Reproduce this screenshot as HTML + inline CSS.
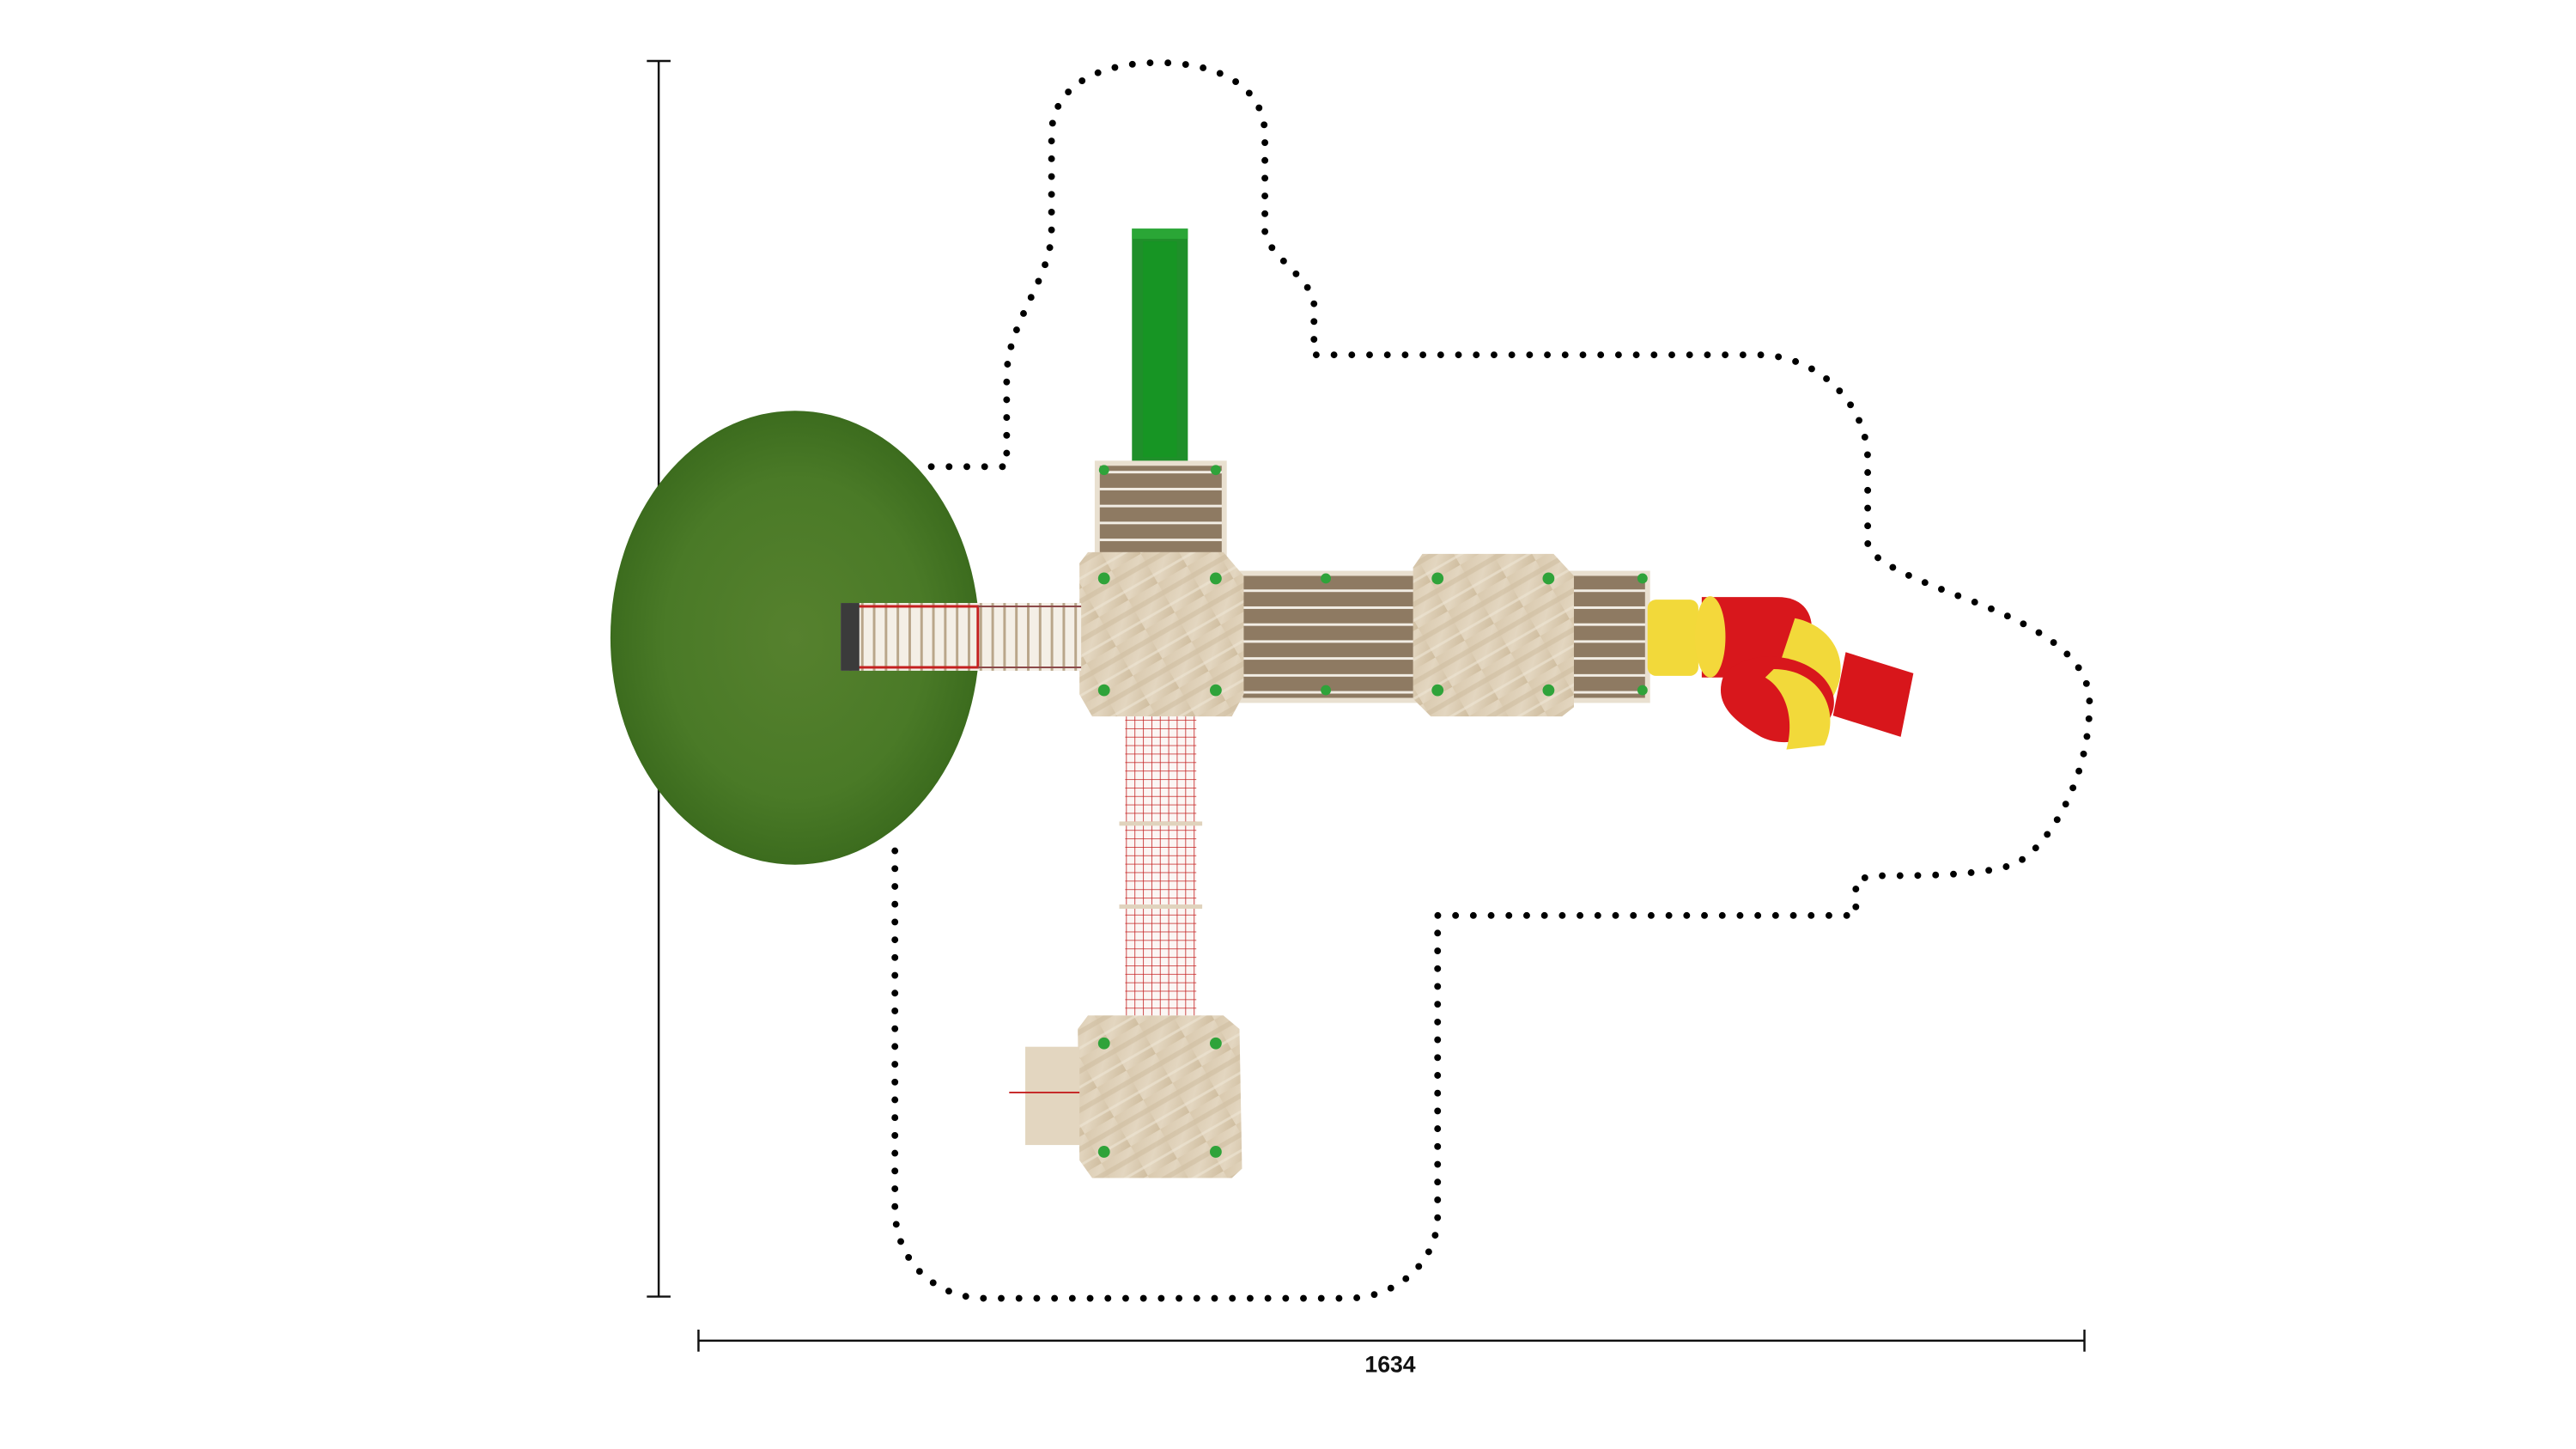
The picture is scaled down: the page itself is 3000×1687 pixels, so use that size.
<!DOCTYPE html>
<html><head><meta charset="utf-8"><style>html,body{margin:0;padding:0;background:#fff}svg{display:block}</style></head>
<body>
<svg width="3000" height="1687" viewBox="0 0 3000 1687" xmlns="http://www.w3.org/2000/svg">
<defs>
<radialGradient id="grass" cx="0.5" cy="0.5" r="0.5">
<stop offset="0" stop-color="#56812e"/><stop offset="0.7" stop-color="#4a7a27"/><stop offset="1" stop-color="#3c6c1e"/>
</radialGradient>
<linearGradient id="wood" x1="0" y1="0" x2="1" y2="1">
<stop offset="0" stop-color="#d9c9ae"/><stop offset="0.5" stop-color="#e3d6c0"/><stop offset="1" stop-color="#cfbd9f"/>
</linearGradient>
<pattern id="slatsH" width="20" height="20" patternUnits="userSpaceOnUse">
<rect width="20" height="20" fill="#8e7a62"/><rect y="16" width="20" height="3" fill="#f2ede4"/>
</pattern>
<pattern id="slatsV" width="14" height="14" patternUnits="userSpaceOnUse">
<rect width="14" height="14" fill="#f4efe6"/><rect x="9" width="3" height="14" fill="#b9a68a"/>
</pattern>
<pattern id="net" width="10" height="10" patternUnits="userSpaceOnUse">
<rect width="10" height="10" fill="#fbf6f4"/><path d="M0 0H10M0 0V10" stroke="#c42020" stroke-width="1.6"/>
</pattern>
<pattern id="woodgrain" width="40" height="40" patternUnits="userSpaceOnUse" patternTransform="rotate(-30)">
<rect width="40" height="40" fill="url(#wood)"/><rect width="40" height="6" y="10" fill="#cbb99b" opacity="0.5"/><rect width="40" height="3" y="28" fill="#efe6d6" opacity="0.6"/>
</pattern>
</defs>
<rect width="3000" height="1687" fill="#fff"/>
<g transform="scale(0.986)">
<g stroke="#111" stroke-width="2.5" fill="none">
<line x1="778" y1="72" x2="778" y2="1531"/>
<line x1="764" y1="72" x2="792" y2="72"/>
<line x1="764" y1="1531" x2="792" y2="1531"/>
<line x1="825" y1="1583" x2="2462" y2="1583"/>
<line x1="825" y1="1570" x2="825" y2="1596"/>
<line x1="2462" y1="1570" x2="2462" y2="1596"/>
</g>
<text x="1642" y="1620" font-family="Liberation Sans, sans-serif" font-size="27" font-weight="bold" text-anchor="middle" fill="#111">1634</text>

<path d="M1100,551 L1189,551 L1189,446 C1189,380 1242,330 1242,272 L1242,160 C1242,100 1300,74 1368,74 C1436,74 1494,100 1494,160 L1494,272 C1494,300 1552,330 1552,360 L1552,419 L2076,419 C2150,419 2206,480 2206,543 L2206,640 C2206,660 2250,680 2330,710 C2420,745 2468,780 2468,830 C2468,920 2420,1000 2380,1020 C2340,1035 2260,1034 2210,1034 L2192,1040 L2192,1081 L1698,1081 L1698,1436 C1698,1490 1650,1533 1591,1533 L1164,1533 C1105,1533 1057,1490 1057,1426 L1057,985" fill="none" stroke="#000" stroke-width="8" stroke-linecap="round" stroke-dasharray="0 21"/>

<ellipse cx="939" cy="753" rx="218" ry="268" fill="url(#grass)"/>

<rect x="1337" y="270" width="66" height="275" fill="#1f8f2a"/>
<rect x="1350" y="285" width="40" height="255" fill="#179524"/>
<rect x="1337" y="270" width="66" height="12" fill="#2aa636"/>

<rect x="1296" y="547" width="150" height="108" fill="url(#slatsH)" stroke="#e9e0d0" stroke-width="6"/>

<rect x="1465" y="677" width="208" height="150" fill="url(#slatsH)" stroke="#e9e0d0" stroke-width="6"/>
<rect x="1855" y="677" width="91" height="150" fill="url(#slatsH)" stroke="#e9e0d0" stroke-width="6"/>

<path d="M1285,652 L1445,652 L1469,680 L1469,820 L1455,846 L1290,846 L1275,820 L1275,665 Z" fill="url(#woodgrain)"/>
<path d="M1680,654 L1835,654 L1859,680 L1859,835 L1845,846 L1690,846 L1669,825 L1669,670 Z" fill="url(#woodgrain)"/>
<path d="M1285,1199 L1445,1199 L1464,1215 L1467,1380 L1455,1391 L1290,1391 L1275,1370 L1273,1215 Z" fill="url(#woodgrain)"/>
<rect x="1211" y="1236" width="64" height="116" fill="#e3d6c0"/>
<line x1="1192" y1="1290" x2="1275" y2="1290" stroke="#c42020" stroke-width="2"/>

<g fill="#2fa33a">
<circle cx="1304" cy="683" r="7"/><circle cx="1436" cy="683" r="7"/><circle cx="1304" cy="815" r="7"/><circle cx="1436" cy="815" r="7"/>
<circle cx="1304" cy="555" r="6"/><circle cx="1436" cy="555" r="6"/>
<circle cx="1566" cy="683" r="6"/><circle cx="1566" cy="815" r="6"/>
<circle cx="1698" cy="683" r="7"/><circle cx="1829" cy="683" r="7"/><circle cx="1698" cy="815" r="7"/><circle cx="1829" cy="815" r="7"/>
<circle cx="1940" cy="683" r="6"/><circle cx="1940" cy="815" r="6"/>
<circle cx="1304" cy="1232" r="7"/><circle cx="1436" cy="1232" r="7"/><circle cx="1304" cy="1360" r="7"/><circle cx="1436" cy="1360" r="7"/>
</g>

<rect x="993" y="712" width="284" height="80" fill="url(#slatsV)"/>
<rect x="1010" y="716" width="145" height="72" fill="none" stroke="#c42020" stroke-width="3"/>
<line x1="1155" y1="716" x2="1277" y2="716" stroke="#8c4a4a" stroke-width="2"/>
<line x1="1155" y1="788" x2="1277" y2="788" stroke="#8c4a4a" stroke-width="2"/>
<rect x="993" y="712" width="22" height="80" fill="#3b3b3b"/>

<rect x="1329" y="846" width="84" height="353" fill="url(#net)"/>
<rect x="1322" y="970" width="98" height="5" fill="#e0d3bd"/>
<rect x="1322" y="1068" width="98" height="5" fill="#e0d3bd"/>

<path d="M2180,770 L2260,795 L2245,870 L2165,845 Z" fill="#d8161b"/>
<rect x="1946" y="708" width="60" height="90" rx="10" fill="#f2d93a"/>
<path d="M2010,705 L2100,705 C2140,705 2150,740 2130,780 L2100,800 L2010,800 Z" fill="#d8171c"/>
<ellipse cx="2020" cy="752" rx="18" ry="48" fill="#f4d83b"/>
<path d="M2120,730 C2170,740 2190,790 2160,830 L2120,860 L2090,820 Z" fill="#f2d93a"/>
<path d="M2035,800 C2060,760 2150,770 2165,820 C2175,860 2120,890 2080,870 C2045,850 2025,830 2035,800 Z" fill="#d8171c"/>
<path d="M2095,790 C2150,790 2175,840 2155,880 L2110,885 C2120,850 2110,815 2085,800 Z" fill="#f2d93a"/>
</g>
</svg>
</body></html>
